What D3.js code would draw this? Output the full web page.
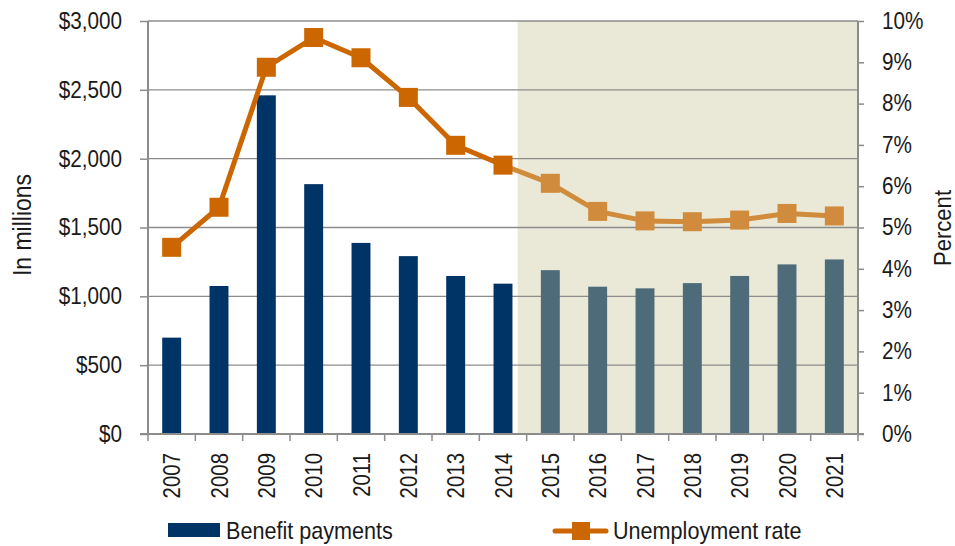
<!DOCTYPE html>
<html>
<head>
<meta charset="utf-8">
<script src="https://cdn.jsdelivr.net/npm/d3@7"></script>
<style>
  html, body { margin: 0; padding: 0; background: #ffffff; }
  svg { display: block; }
  text { font-family: "Liberation Sans", Arial, sans-serif; fill: #1a1a1a; }
</style>
</head>
<body>
<svg id="chart" width="955" height="546"></svg>
<script>
// ---- data ----
const years = ["2007","2008","2009","2010","2011","2012","2013","2014","2015","2016","2017","2018","2019","2020","2021"];
const benefitPayments = [700, 1075, 2460, 1815, 1388, 1292, 1148, 1092, 1190, 1070, 1058, 1096, 1148, 1232, 1268];
const unemploymentRate = [4.52, 5.49, 8.88, 9.60, 9.11, 8.15, 6.99, 6.51, 6.07, 5.39, 5.16, 5.14, 5.18, 5.34, 5.28];
const projectedFrom = "2015";
const leftTicks = [0, 500, 1000, 1500, 2000, 2500, 3000];
const rightTicks = [0, 1, 2, 3, 4, 5, 6, 7, 8, 9, 10];
const leftTitle = "In millions";
const rightTitle = "Percent";
const legendLabels = ["Benefit payments", "Unemployment rate"];

// ---- layout ----
const svg = d3.select("#chart");
const plot = { left: 148, right: 858, top: 21, bottom: 434 };
const colors = {
  barActual: "#003366", barProj: "#4e6b7a",
  lineActual: "#cc6600", lineProj: "#d08c3c",
  shade: "#eae8d6", grid: "#8c8c8c", axis: "#8c8c8c"
};
const condense = 0.9;   // horizontal squeeze to mimic the condensed typeface

const x = d3.scaleBand().domain(years).range([plot.left, plot.right]).paddingInner(0.6).paddingOuter(0.3);
const yL = d3.scaleLinear().domain([0, 3000]).range([plot.bottom, plot.top]);
const yR = d3.scaleLinear().domain([0, 10]).range([plot.bottom, plot.top]);
const step = x.step();
const cx = d => x(d) + x.bandwidth() / 2;
const projIdx = years.indexOf(projectedFrom);

// shaded projection area
const shadeStart = cx(years[projIdx - 1]) + step * 0.31;
svg.append("rect")
  .attr("x", shadeStart).attr("y", plot.top)
  .attr("width", plot.right - shadeStart).attr("height", plot.bottom - plot.top)
  .attr("fill", colors.shade);

// gridlines
svg.append("g").selectAll("line").data(leftTicks.filter(t => t > 0)).join("line")
  .attr("x1", plot.left).attr("x2", plot.right)
  .attr("y1", d => yL(d)).attr("y2", d => yL(d))
  .attr("stroke", colors.grid).attr("stroke-width", 1.3);

// bars
svg.append("g").selectAll("rect").data(years).join("rect")
  .attr("x", d => x(d)).attr("width", x.bandwidth())
  .attr("y", (d, i) => yL(benefitPayments[i]))
  .attr("height", (d, i) => yL(0) - yL(benefitPayments[i]))
  .attr("fill", (d, i) => i >= projIdx ? colors.barProj : colors.barActual);

function squeezeTickText(sel, s) {
  sel.each(function () {
    const t = d3.select(this);
    const xv = +t.attr("x");
    t.attr("x", xv / s).attr("transform", `scale(${s},1)`);
  });
}

// left axis
const axL = svg.append("g").attr("transform", `translate(${plot.left},0)`)
  .call(d3.axisLeft(yL).tickValues(leftTicks).tickSize(8).tickPadding(18)
    .tickFormat(d => "$" + d3.format(",")(d)));
axL.select(".domain").remove();
axL.selectAll(".tick line").attr("stroke", colors.axis).attr("stroke-width", 1.5);
axL.selectAll(".tick text").attr("font-size", 23).attr("fill", "#1a1a1a")
  .attr("font-family", "'Liberation Sans', Arial, sans-serif");
squeezeTickText(axL.selectAll(".tick text"), condense);
svg.append("line").attr("x1", plot.left).attr("x2", plot.left)
  .attr("y1", plot.top).attr("y2", plot.bottom)
  .attr("stroke", colors.axis).attr("stroke-width", 2);

// right axis
const axR = svg.append("g").attr("transform", `translate(${plot.right},0)`)
  .call(d3.axisRight(yR).tickValues(rightTicks).tickSize(6).tickPadding(18)
    .tickFormat(d => d + "%"));
axR.select(".domain").remove();
axR.selectAll(".tick line").attr("stroke", colors.axis).attr("stroke-width", 1.5);
axR.selectAll(".tick text").attr("font-size", 23).attr("fill", "#1a1a1a")
  .attr("font-family", "'Liberation Sans', Arial, sans-serif");
squeezeTickText(axR.selectAll(".tick text"), condense);
svg.append("line").attr("x1", plot.right).attr("x2", plot.right)
  .attr("y1", plot.top).attr("y2", plot.bottom)
  .attr("stroke", colors.axis).attr("stroke-width", 2);

// bottom axis
svg.append("line").attr("x1", plot.left - 8).attr("x2", plot.right + 6)
  .attr("y1", plot.bottom).attr("y2", plot.bottom)
  .attr("stroke", colors.axis).attr("stroke-width", 2);
const boundaries = years.map(d => cx(d) - step / 2).concat([cx(years[years.length - 1]) + step / 2]);
svg.append("g").selectAll("line").data(boundaries).join("line")
  .attr("x1", d => d).attr("x2", d => d)
  .attr("y1", plot.bottom).attr("y2", plot.bottom + 7)
  .attr("stroke", colors.axis).attr("stroke-width", 1.5);
svg.append("g").selectAll("text").data(years).join("text")
  .attr("transform", d => `translate(${cx(d) + 8.5},${plot.bottom + 19}) rotate(-90) scale(0.85,1)`)
  .attr("text-anchor", "end").attr("font-size", 24)
  .text(d => d);

// line
const pts = years.map((d, i) => [cx(d), yR(unemploymentRate[i])]);
for (let i = 0; i < pts.length - 1; i++) {
  svg.append("line")
    .attr("x1", pts[i][0]).attr("y1", pts[i][1])
    .attr("x2", pts[i + 1][0]).attr("y2", pts[i + 1][1])
    .attr("stroke", i + 1 >= projIdx ? colors.lineProj : colors.lineActual)
    .attr("stroke-width", 5).attr("stroke-linecap", "round");
}
const mk = 19;
svg.append("g").selectAll("rect").data(years).join("rect")
  .attr("x", d => cx(d) - mk / 2)
  .attr("y", (d, i) => yR(unemploymentRate[i]) - mk / 2)
  .attr("width", mk).attr("height", mk)
  .attr("fill", (d, i) => i >= projIdx ? colors.lineProj : colors.lineActual);

// axis titles
svg.append("text").attr("transform", `translate(31,225) rotate(-90) scale(0.92,1)`)
  .attr("text-anchor", "middle").attr("font-size", 25).text(leftTitle);
svg.append("text").attr("transform", `translate(951,228) rotate(-90) scale(0.92,1)`)
  .attr("text-anchor", "middle").attr("font-size", 24).text(rightTitle);

// legend
const lg = svg.append("g");
lg.append("rect").attr("x", 168).attr("y", 523).attr("width", 52).attr("height", 14).attr("fill", colors.barActual);
lg.append("text").attr("transform", `translate(226,539) scale(${condense},1)`).attr("font-size", 24).text(legendLabels[0]);
lg.append("line").attr("x1", 555).attr("x2", 606).attr("y1", 531).attr("y2", 531)
  .attr("stroke", colors.lineActual).attr("stroke-width", 5).attr("stroke-linecap", "round");
lg.append("rect").attr("x", 572).attr("y", 522).attr("width", 18).attr("height", 18).attr("fill", colors.lineActual);
lg.append("text").attr("transform", `translate(613,539) scale(${condense},1)`).attr("font-size", 24).text(legendLabels[1]);
</script>
</body>
</html>
